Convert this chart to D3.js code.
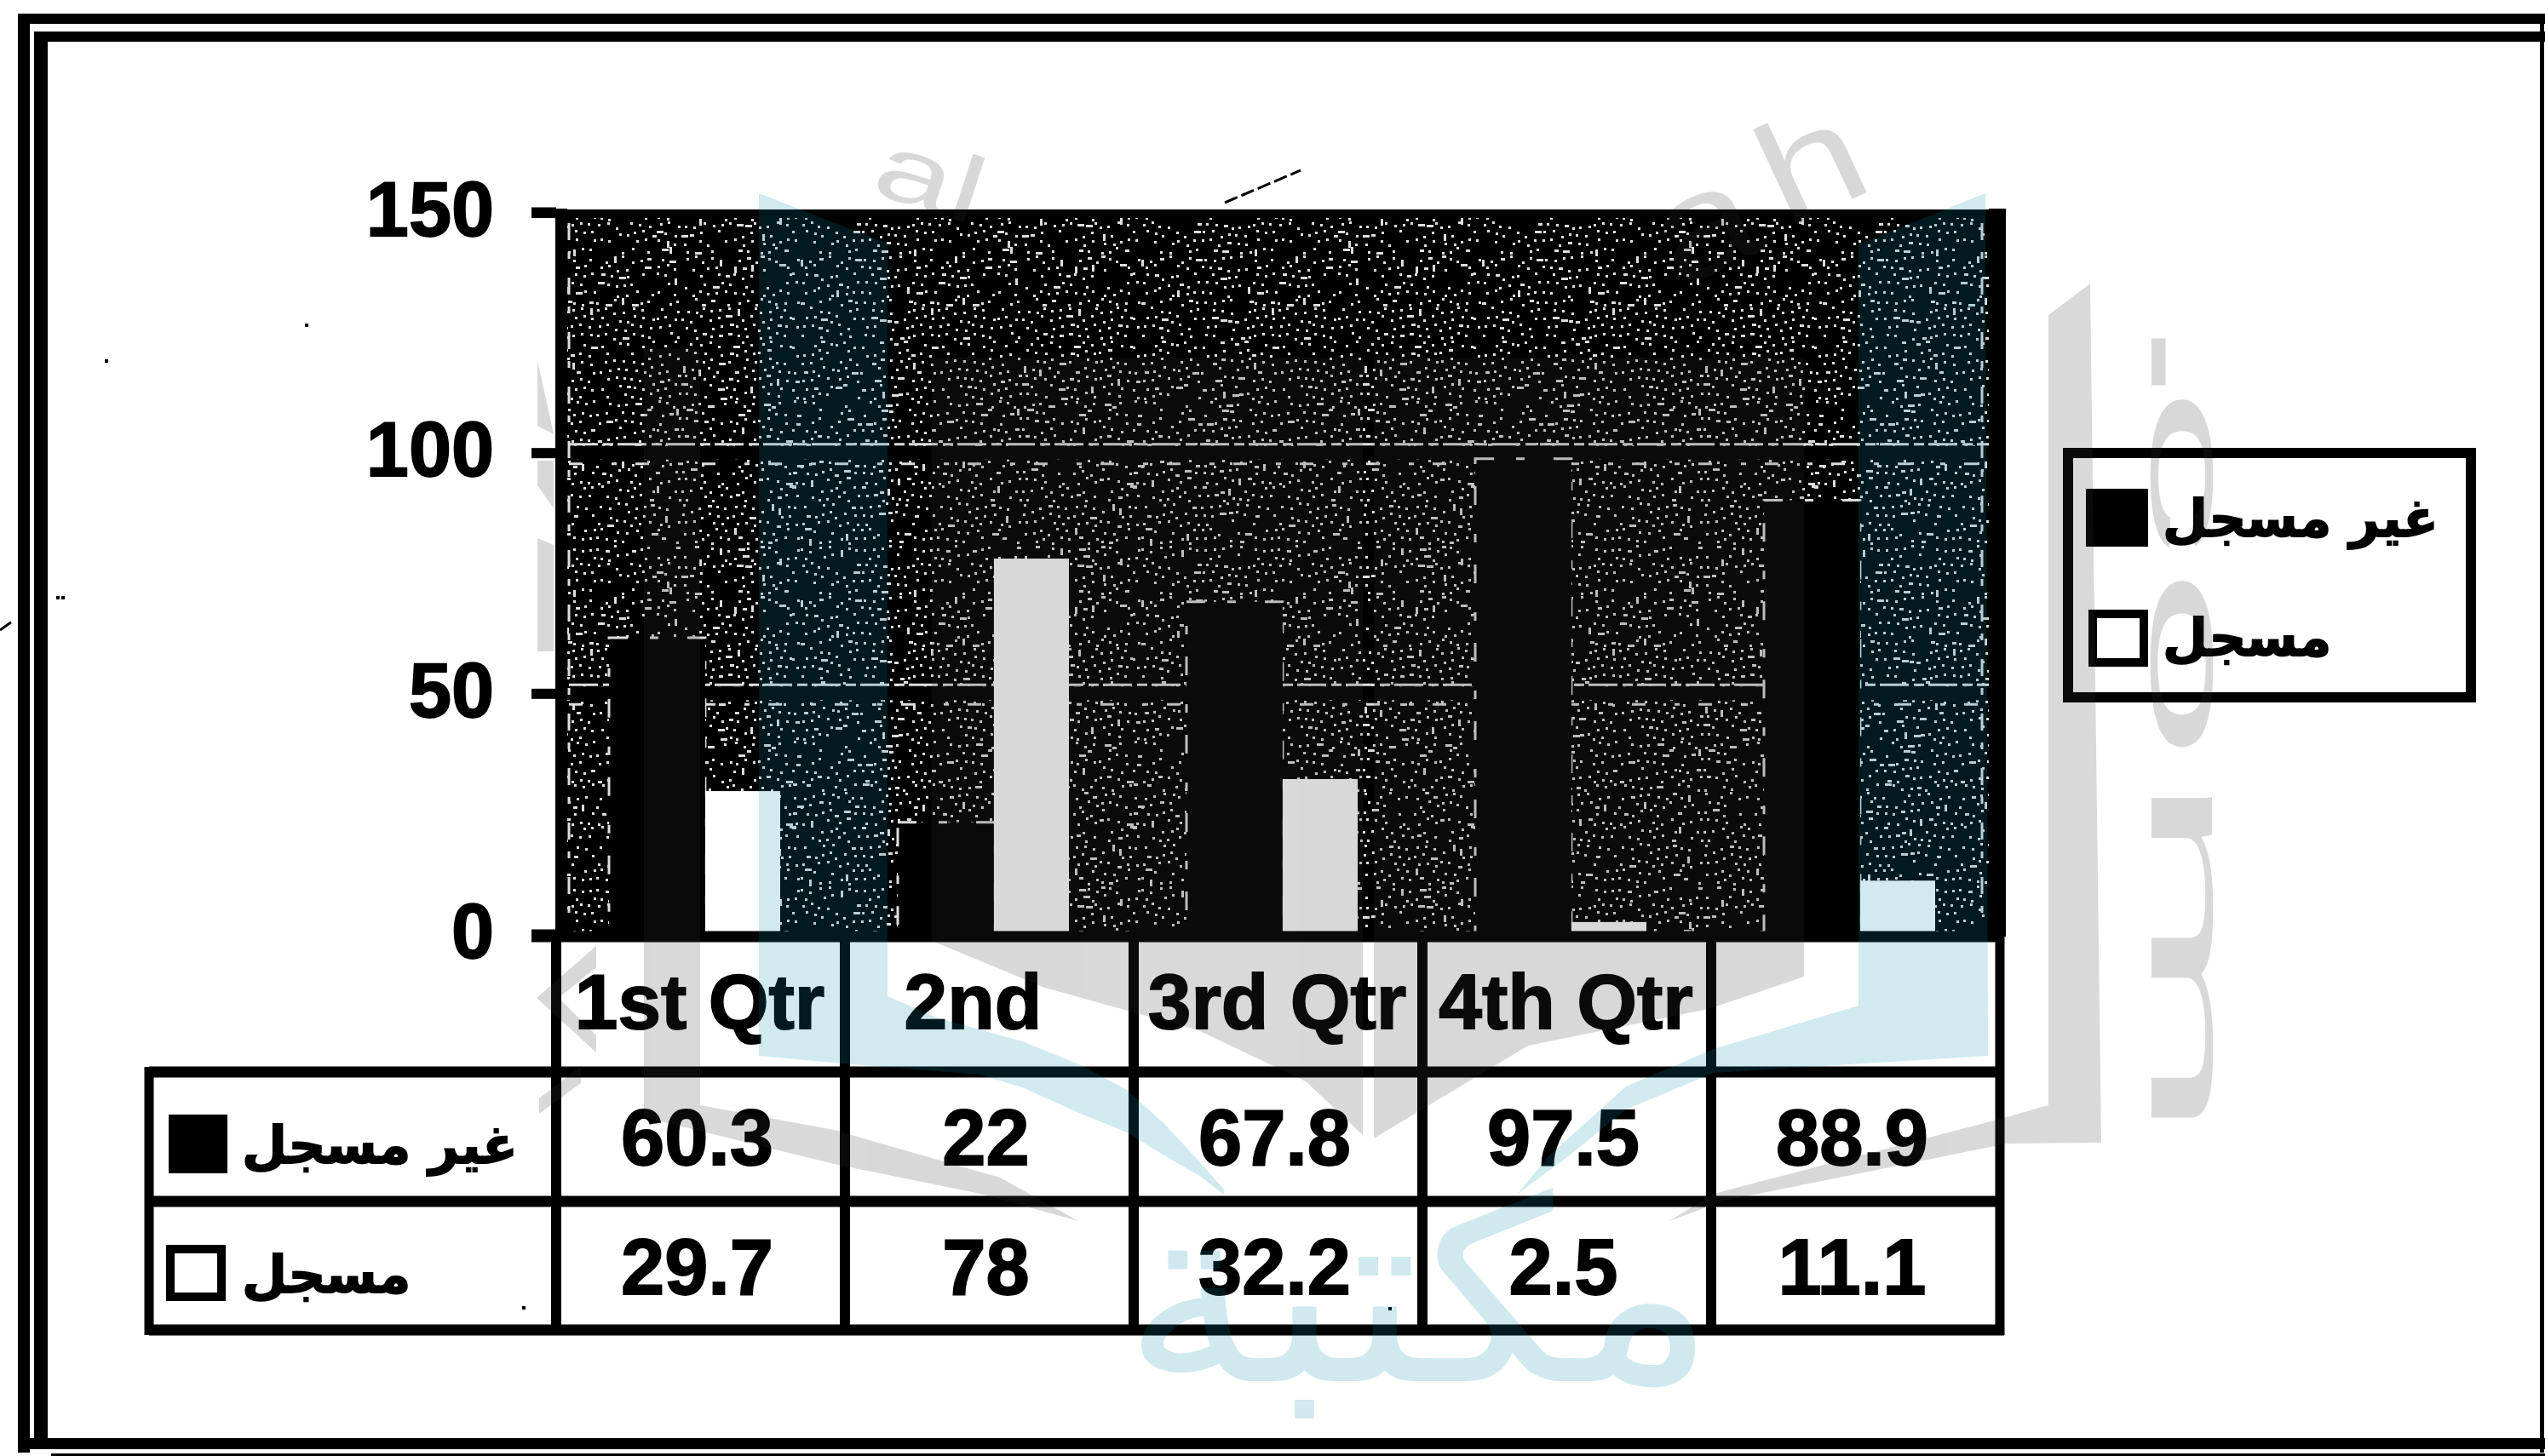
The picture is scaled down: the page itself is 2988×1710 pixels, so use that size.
<!DOCTYPE html>
<html lang="ar">
<head>
<meta charset="utf-8">
<title>مسجل / غير مسجل</title>
<script src="https://cdn.jsdelivr.net/npm/d3@7"></script>
<style>
  html, body { margin: 0; padding: 0; background: #fff; }
  svg { display: block; }
  text { fill: #000; font-family: "Liberation Sans", Arial, sans-serif; font-weight: 700; stroke: #000; stroke-width: 1.8px; }
  .ar { font-family: "DejaVu Sans", sans-serif; direction: rtl; }
</style>
</head>
<body>
<svg id="chart" width="2988" height="1710"></svg>
<script>
// Chart content
const categories = ["1st Qtr", "2nd", "3rd Qtr", "4th Qtr", ""];
const seriesNames = ["غير مسجل", "مسجل"];
const unregistered = [60.3, 22, 67.8, 97.5, 88.9];
const registered = [29.7, 78, 32.2, 2.5, 11.1];
const yTicks = [0, 50, 100, 150];

const seriesFill = ["#000", "#fff"];
const seriesValues = [unregistered, registered];

const svg = d3.select("#chart");
const defs = svg.append("defs");

// Stippled plot background: one light dot per grid cell, nudged by an integer hash
const cell = 10, cells = 40, tileSize = cell * cells;
const tile = defs.append("pattern").attr("id", "stipple")
  .attr("patternUnits", "userSpaceOnUse").attr("width", tileSize).attr("height", tileSize);
tile.append("rect").attr("width", tileSize).attr("height", tileSize).attr("fill", "#000");
d3.cross(d3.range(cells), d3.range(cells)).forEach(([i, j]) => {
  let h = Math.imul(i * 73 + 11, 2654435761) ^ Math.imul(j * 137 + 5, 2246822519);
  h = (h ^ (h >>> 13)) >>> 0;
  if (h % 5 === 0) return;
  const wide = h % 23 === 0 ? 8 : (h % 11 === 0 ? 5 : 3);
  const tall = h % 29 === 0 ? 8 : 3;
  tile.append("rect")
    .attr("x", i * cell + (h >>> 4) % 8)
    .attr("y", j * cell + (h >>> 9) % 8)
    .attr("width", wide).attr("height", tall).attr("fill", "#dedede");
});

// Double frame around the page
const frame = svg.append("g").attr("fill", "#000");
[[21, 16, 2967, 12], [21, 16, 14, 1690], [40, 37, 2948, 12], [40, 37, 16, 1665],
 [21, 1689, 2967, 13], [2982, 16, 5, 1690], [60, 1707, 2928, 3]].forEach(r => {
  frame.append("rect").attr("x", r[0]).attr("y", r[1]).attr("width", r[2]).attr("height", r[3]);
});

// Scales
const x0 = d3.scaleBand().domain(categories).range([653, 2348]);
const y = d3.scaleLinear().domain([0, 150]).range([1097, 249]);
const inBand = d3.scaleLinear().domain([0, 1]).range([65, 263]);
const seriesEdges = [0, 0.555, 1];
const edgeX = (k, j) => x0(categories[k]) + inBand(seriesEdges[j]);

// Plot area
const plotRight = 2355;
svg.append("rect").attr("x", 653).attr("y", 247).attr("width", plotRight - 653).attr("height", 853)
  .attr("fill", "url(#stipple)");
const plotEdge = svg.append("g").attr("fill", "none").attr("stroke", "#000");
plotEdge.append("path").attr("stroke-width", 14).attr("d", `M659,245V1100`);
plotEdge.append("path").attr("stroke-width", 10).attr("d", `M624,251H${plotRight}`);
plotEdge.append("path").attr("stroke-width", 20).attr("d", `M2345,245V1100`);

// Gridlines with the pale broken edges the halftone leaves beside them
const grid = svg.append("g");
[50, 100].forEach(v => {
  grid.append("line").attr("x1", 653).attr("x2", plotRight).attr("y1", y(v)).attr("y2", y(v))
    .attr("stroke", "#000").attr("stroke-width", 16);
  grid.append("line").attr("x1", 668).attr("x2", 2335).attr("y1", y(v) - 10).attr("y2", y(v) - 10)
    .attr("stroke", "#dedede").attr("stroke-width", 3).attr("stroke-dasharray", "34 6 12 5");
  grid.append("line").attr("x1", 668).attr("x2", 2335).attr("y1", y(v) + 13).attr("y2", y(v) + 13)
    .attr("stroke", "#dedede").attr("stroke-width", 3).attr("stroke-dasharray", "16 34 6 22");
});
grid.append("path").attr("d", "M668,262V1086M2327,262V1086").attr("fill", "none")
  .attr("stroke", "#dedede").attr("stroke-width", 3).attr("stroke-dasharray", "20 14 8 22");

// Bars; the solid series keeps a black margin edged with a broken pale line
const halo = svg.append("g");
halo.selectAll("rect").data(seriesValues[0]).join("rect")
  .attr("x", (d, k) => edgeX(k, 0) - 3)
  .attr("width", (d, k) => edgeX(k, 1) - edgeX(k, 0) + 3)
  .attr("y", d => y(d) - 7)
  .attr("height", d => y(0) - y(d) + 7)
  .attr("fill", "#000").attr("stroke", "#dedede").attr("stroke-width", 3)
  .attr("stroke-dasharray", "22 26 10 34");
seriesValues.forEach((vals, s) => {
  svg.append("g").selectAll("rect").data(vals).join("rect")
    .attr("x", (d, k) => edgeX(k, s))
    .attr("width", (d, k) => edgeX(k, s + 1) - edgeX(k, s))
    .attr("y", d => y(d))
    .attr("height", d => y(0) - y(d))
    .attr("fill", seriesFill[s]);
});

// Value axis
const axis = svg.append("g").attr("transform", "translate(653,0)")
  .call(d3.axisLeft(y).tickValues(yTicks).tickSize(29).tickPadding(44));
axis.select(".domain").remove();
axis.selectAll(".tick line").attr("stroke", "#000").attr("stroke-width", 12);
axis.selectAll(".tick text").attr("font-size", 90).attr("dy", "0.30em");

// Category axis baseline
svg.append("line").attr("x1", 624).attr("x2", 2352).attr("y1", y(0) + 3).attr("y2", y(0) + 3)
  .attr("stroke", "#000").attr("stroke-width", 13);

// Data table under the plot
const rowTop = 1259, rowLines = [1259, 1411, 1562];
const tableLeft = 175, tableRight = 2348;
const table = svg.append("g").attr("stroke", "#000");
x0.domain().forEach(c => {
  table.append("line").attr("x1", x0(c)).attr("x2", x0(c)).attr("y1", 1100).attr("y2", 1568).attr("stroke-width", 12);
});
table.append("line").attr("x1", tableRight).attr("x2", tableRight).attr("y1", 1100).attr("y2", 1568).attr("stroke-width", 11);
table.append("line").attr("x1", tableLeft).attr("x2", tableLeft).attr("y1", rowTop - 6).attr("y2", 1568).attr("stroke-width", 11);
rowLines.forEach(ry => {
  table.append("line").attr("x1", tableLeft).attr("x2", tableRight + 5)
    .attr("y1", ry).attr("y2", ry).attr("stroke-width", 13);
});

const bandMid = c => x0(c) + x0.bandwidth() / 2;
const labelShift = c => (c === "2nd" ? -18 : 0);
svg.append("g").selectAll("text").data(categories).join("text")
  .attr("x", c => bandMid(c) + labelShift(c) - 1).attr("y", 1208)
  .attr("text-anchor", "middle").attr("font-size", 91).text(c => c);

const rowBaselines = [1368, 1520];
seriesValues.forEach((vals, s) => {
  svg.append("g").selectAll("text").data(vals).join("text")
    .attr("x", (d, k) => bandMid(categories[k]) - 4)
    .attr("y", rowBaselines[s])
    .attr("text-anchor", "middle").attr("font-size", 92).text(d => d);
});

// Shared swatch and label drawing for the table keys and the legend
function keyEntry(parent, s, sx, sy, sw, sh, tx, ty) {
  parent.append("rect").attr("x", sx + 5).attr("y", sy + 5).attr("width", sw - 10).attr("height", sh - 10)
    .attr("fill", seriesFill[s]).attr("stroke", "#000").attr("stroke-width", 10);
  parent.append("text").attr("class", "ar").attr("x", tx).attr("y", ty)
    .attr("text-anchor", "end").attr("font-size", 61).text(seriesNames[s]);
}
const keys = svg.append("g");
keyEntry(keys, 0, 198, 1309, 69, 69, 284, 1366);
keyEntry(keys, 1, 195, 1462, 70, 66, 284, 1518);

// Legend box
const legend = svg.append("g");
legend.append("rect").attr("x", 2428).attr("y", 532).attr("width", 473).attr("height", 287)
  .attr("fill", "#fff").attr("stroke", "#000").attr("stroke-width", 12);
keyEntry(legend, 0, 2449, 574, 73, 68, 2539, 630);
keyEntry(legend, 1, 2452, 716, 70, 67, 2539, 770);

// Stray specks from the scan
const specks = svg.append("g").attr("fill", "#000");
[[358, 380], [123, 422], [66, 700], [72, 700], [1630, 1535], [613, 1534]].forEach(p => {
  specks.append("rect").attr("x", p[0]).attr("y", p[1]).attr("width", 4).attr("height", 4);
});
svg.append("path").attr("d", "M1438,238L1527,200M0,740L14,730").attr("stroke", "#000")
  .attr("stroke-width", 3).attr("stroke-dasharray", "16 5").attr("fill", "none");

// Translucent publisher mark laid over everything: gray letterforms and blue book shape
const markGray = svg.append("g").attr("opacity", 0.188).attr("fill", "#353535").attr("stroke", "none");
const grayShapes = [
  "M1094,420L1600,420L1600,1333L1533,1270L1407,1210L1227,1160L1094,1105Z",
  "M1613,420L2118,420L2118,1147L2006,1185L1794,1228L1613,1337Z",
  "M756,410L822,410L822,1298L979,1327L1174,1383L1266,1434L1151,1402L979,1367L756,1312Z",
  "M2405,370L2454,333L2467,1342L2357,1343L2024,1410L1960,1434L2012,1402L2345,1315L2405,1298Z",
  "M700,1111L630,1172L700,1236L700,1216L656,1172L700,1136Z",
  "M682,1272L633,1308L633,1290L682,1252Z",
  "M631,423L650,510L631,500Z",
  "M631,541L650,541L650,597L631,570Z",
  "M631,632L650,640L650,765L631,765Z"
];
grayShapes.forEach(d => markGray.append("path").attr("d", d));

// Stretched lettering of the mark; sits along the top and down the right side
const markText = (str, tx, ty, sx, sy, rot, size, color, family) =>
  svg.append("text").attr("transform", `translate(${tx},${ty}) rotate(${rot}) scale(${sx},${sy})`)
    .attr("font-size", size).attr("opacity", color === "gray" ? 0.188 : 0.184)
    .style("fill", color === "gray" ? "#353535" : "#008dae").style("stroke", "none")
    .style("font-family", family).style("font-weight", 400).text(str);
markText("al", 1020, 225, 1.5, 1.0, 18, 110, "gray", "Liberation Sans");
markText("a", 1970, 340, 1.25, 1.0, -25, 170, "gray", "Liberation Sans");
markText("h", 2097, 270, 1.25, 1.0, -25, 170, "gray", "Liberation Sans");
markText(".", 2526, 345, 6.0, 1.6, 90, 96, "gray", "Liberation Sans");
markText("c", 2526, 452, 4.2, 1.4, 90, 96, "gray", "Liberation Sans");
markText("o", 2526, 665, 4.3, 1.4, 90, 96, "gray", "Liberation Sans");
markText("m", 2526, 900, 5.6, 1.4, 90, 96, "gray", "Liberation Sans");

const markBlue = svg.append("g").attr("opacity", 0.184).attr("fill", "#008dae").attr("stroke", "none");
const blueShapes = [
  "M891,227L1042,286L1042,1170L1100,1195L1200,1223L1267,1250L1323,1280L1367,1320L1407,1363L1437,1397L1437,1403L1407,1380L1367,1357L1323,1330L1267,1307L1200,1277L1150,1262L1000,1250L891,1240Z",
  "M2331,227L2334,1240L2012,1260L1909,1303L1840,1359L1782,1402L1817,1359L1909,1276L2012,1232L2182,1181L2182,287Z"
];
blueShapes.forEach(d => markBlue.append("path").attr("d", d));
markText("مكتبة", 1318, 1622, 1.36, 1.3, 0, 230, "blue", "DejaVu Sans");
</script>
</body>
</html>
